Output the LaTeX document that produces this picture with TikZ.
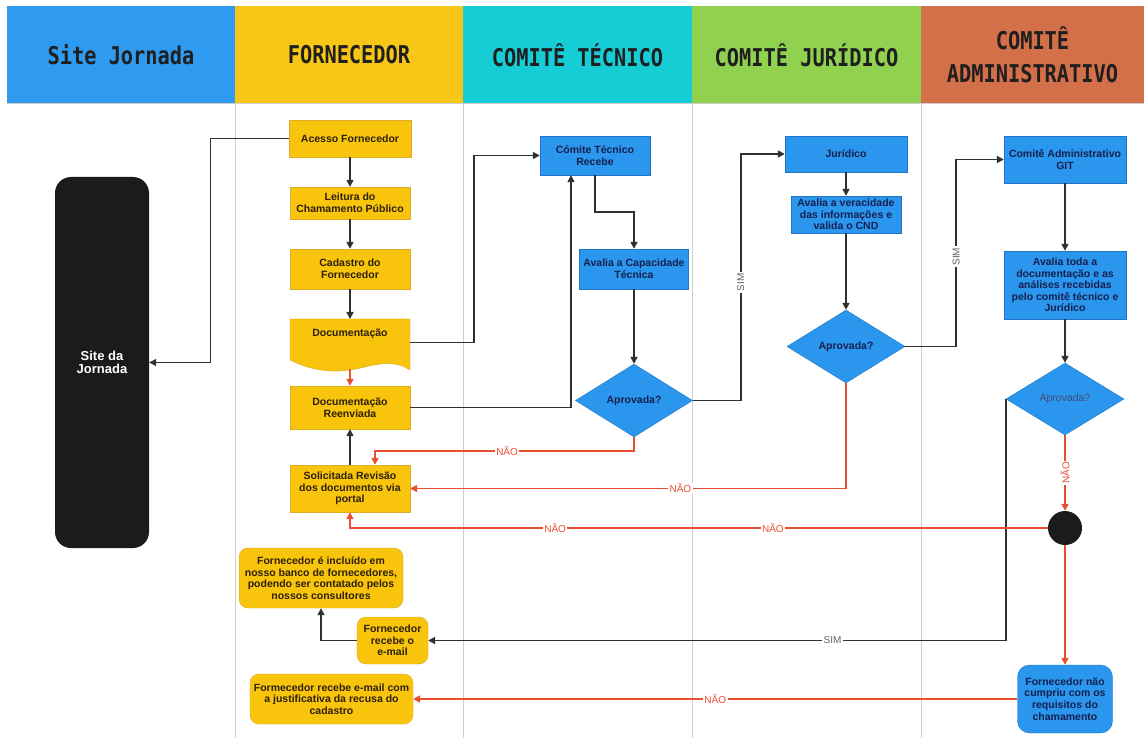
\documentclass[tikz,border=0pt]{standalone}
\usepackage{fontspec}
\usepackage{tikz}
\usetikzlibrary{shapes.geometric,arrows.meta,calc}
\setmainfont{Liberation Sans}
\newfontfamily\headfont[FakeStretch=0.83]{DejaVu Sans Mono}
\definecolor{laneblue}{RGB}{46,155,240}
\definecolor{laneyellow}{RGB}{247,198,22}
\definecolor{lanecyan}{RGB}{22,205,213}
\definecolor{lanegreen}{RGB}{145,209,80}
\definecolor{laneorange}{RGB}{211,111,73}
\definecolor{boxyellow}{RGB}{248,196,12}
\definecolor{boxedge}{RGB}{222,172,40}
\definecolor{procblue}{RGB}{42,150,238}
\definecolor{blueedge}{RGB}{32,118,196}
\definecolor{inknavy}{RGB}{22,32,78}
\definecolor{inkbrown}{RGB}{45,32,12}
\definecolor{flowgray}{RGB}{48,48,48}
\definecolor{nored}{RGB}{232,78,48}
\definecolor{rulegray}{RGB}{205,205,205}
\definecolor{siteblack}{RGB}{27,27,27}
\newcommand\cardfont{\fontsize{10.5}{11.6}\selectfont\bfseries}
\newcommand\edgefont{\fontsize{10}{11}\selectfont}

\begin{document}
\begin{tikzpicture}[x=1pt,y=-1pt,
    lanehead/.style={font=\headfont\bfseries\fontsize{24.5}{33}\selectfont, text=black!88, align=center},
    lanerule/.style={rulegray, line width=0.9pt},
    yellowbox/.style={draw=boxedge, fill=boxyellow, text=inkbrown, font=\cardfont, align=center, inner sep=1pt},
    bluebox/.style={draw=blueedge, fill=procblue, text=inknavy, font=\cardfont, align=center, inner sep=1pt},
    decision/.style={diamond, draw=blueedge, fill=procblue, text=inknavy, font=\cardfont, inner sep=0pt, aspect=1.6},
    sitebox/.style={fill=siteblack, text=white, rounded corners=16pt, align=center, font=\fontsize{13}{13.6}\selectfont\bfseries},
    flow/.style={draw=flowgray, line width=1.6pt, -{Triangle[length=7pt,width=7pt]}},
    noflow/.style={draw=nored, line width=1.6pt, -{Triangle[length=7pt,width=7pt]}},
    simlabel/.style={fill=white, text=flowgray!75, font=\edgefont, inner sep=1.5pt},
    naolabel/.style={fill=white, text=nored, font=\edgefont, inner sep=1.5pt}
]
    \useasboundingbox (0,0) rectangle (1144,738);
    \fill[white] (0,0) rectangle (1144,738);

    % Lane headers
    \foreach \name/\col/\xa/\xb [count=\i] in {
        {Site Jornada}/laneblue/7/235,
        {FORNECEDOR}/laneyellow/235/463,
        {COMITÊ TÉCNICO}/lanecyan/463/692,
        {COMITÊ JURÍDICO}/lanegreen/692/921,
        {COMITÊ\\ADMINISTRATIVO}/laneorange/921/1144%
    } {
        \fill[\col] (\xa,6) rectangle (\xb,103);
        \node[lanehead] (head\i) at ({(\xa+\xb)/2},55) {\name};
    }
    \draw[lanerule] (7,103) -- (1144,103);
    \foreach \x in {235,463,692,921}
        \draw[lanerule] (\x,103) -- (\x,738);

    % Site
    \node[sitebox, minimum width=94, minimum height=371] (site) at (102,362.5) {Site da\\Jornada};

    % Fornecedor lane
    \node[yellowbox, minimum width=122, minimum height=37] (acesso) at (350,138.5) {Acesso Fornecedor};
    \node[yellowbox, minimum width=120, minimum height=32] (leitura) at (350,203) {Leitura do\\Chamamento Público};
    \node[yellowbox, minimum width=120, minimum height=40] (cadastro) at (350,269) {Cadastro do\\Fornecedor};
    \filldraw[draw=boxedge, fill=boxyellow] (290,319) -- (410,319) -- (410,370)
        .. controls (398,362) and (385,362) .. (365,367)
        .. controls (345,372) and (320,375) .. (290,360) -- cycle;
    \node[font=\cardfont, text=inkbrown, minimum width=120, minimum height=47, text depth=20pt] (doc) at (350,342.5) {Documentação};
    \coordinate (docfoot) at (350,369);
    \node[yellowbox, minimum width=120, minimum height=43] (reenvio) at (350,407.5) {Documentação\\Reenviada};
    \node[yellowbox, minimum width=120, minimum height=47] (revisao) at (350,488.5) {Solicitada Revisão\\dos documentos via\\portal};
    \node[yellowbox, rounded corners=9pt, minimum width=164, minimum height=60] (incluido) at (321,578) {Fornecedor é incluído em\\nosso banco de fornecedores,\\podendo ser contatado pelos\\nossos consultores};
    \node[yellowbox, rounded corners=9pt, minimum width=71, minimum height=47] (recebe) at (392.5,640.5) {Fornecedor\\recebe o\\e-mail};
    \node[yellowbox, rounded corners=9pt, minimum width=163, minimum height=50] (recusa) at (331.5,699) {Formecedor recebe e-mail com\\a justificativa da recusa do\\cadastro};

    % Comite tecnico
    \node[bluebox, minimum width=110, minimum height=39] (tecRecebe) at (595,155.5) {Cómite Técnico\\Recebe};
    \node[bluebox, minimum width=109, minimum height=40] (tecAvalia) at (634,269) {Avalia a Capacidade\\Técnica};
    \node[decision, minimum width=117, minimum height=73] (tecDec) at (634,400.5) {Aprovada?};

    % Comite juridico
    \node[bluebox, minimum width=122, minimum height=36] (jurRecebe) at (846,154) {Jurídico};
    \node[bluebox, minimum width=110, minimum height=37] (jurAvalia) at (846,214.5) {Avalia a veracidade\\das informações e\\valida o CND};
    \node[decision, minimum width=118, minimum height=73] (jurDec) at (846,346.5) {Aprovada?};

    % Comite administrativo
    \node[bluebox, minimum width=122, minimum height=47] (admRecebe) at (1065,159.5) {Comitê Administrativo\\GIT};
    \node[bluebox, minimum width=122, minimum height=68] (admAvalia) at (1065,285) {Avalia toda a\\documentação e as\\análises recebidas\\pelo comitê técnico e\\Jurídico};
    \node[decision, minimum width=118, minimum height=72, font=\fontsize{10.5}{11.6}\selectfont, text=inknavy!80] (admDec) at (1065,399) {Aprovada?};
    \node[circle, fill=siteblack, minimum size=34, inner sep=0pt] (junta) at (1065,528) {};
    \node[bluebox, rounded corners=12pt, minimum width=95, minimum height=68] (naoCumpriu) at (1065,699) {Fornecedor não\\cumpriu com os\\requisitos do\\chamamento};

    % Fluxo principal
    \draw[flow, line width=1.3pt] (acesso.west) -- ++(-78,0) |- (site.east);
    \draw[flow] (acesso) -- (leitura);
    \draw[flow] (leitura) -- (cadastro);
    \draw[flow] (cadastro) -- (350,319);
    \draw[noflow] (docfoot) -- (reenvio.north);
    \draw[flow] (doc.east) -- ++(64,0) |- (tecRecebe.west);
    \draw[flow] (reenvio.east) -| ([xshift=-24pt]tecRecebe.south);
    \draw[flow] (tecRecebe.south) -- ++(0,37) -| (tecAvalia.north);
    \draw[flow] (tecAvalia) -- (tecDec);
    \draw[flow] (tecDec.east) -- ++(48,0) |- node[simlabel, pos=0.24, rotate=90] {SIM} (jurRecebe.west);
    \draw[flow] (jurRecebe) -- (jurAvalia);
    \draw[flow] (jurAvalia) -- (jurDec);
    \draw[flow] (jurDec.east) -- ++(51,0) |- node[simlabel, pos=0.24, rotate=90] {SIM} (admRecebe.west);
    \draw[flow] (admRecebe) -- (admAvalia);
    \draw[flow] (admAvalia) -- (admDec);
    \draw[flow] (revisao.north) -- (reenvio.south);
    \draw[flow] (admDec.west) |- node[simlabel, pos=0.65] {SIM} (recebe.east);
    \draw[flow] (recebe.west) -| (incluido.south);

    % Retornos (NÃO)
    \draw[noflow] (tecDec.south) -- ++(0,14) -| node[naolabel, pos=0.245] {NÃO} ([xshift=25pt]revisao.north);
    \draw[noflow] (jurDec.south) |- node[naolabel, pos=0.69] {NÃO} (revisao.east);
    \draw[noflow] (admDec.south) -- node[naolabel, rotate=90] {NÃO} (junta.north);
    \draw[noflow] (junta.west) -| node[naolabel, pos=0.197] {NÃO} node[naolabel, pos=0.353] {NÃO} (revisao.south);
    \draw[noflow] (junta.south) -- (naoCumpriu.north);
    \draw[noflow] (naoCumpriu.west) -- node[naolabel] {NÃO} (recusa.east);
\end{tikzpicture}
\end{document}
